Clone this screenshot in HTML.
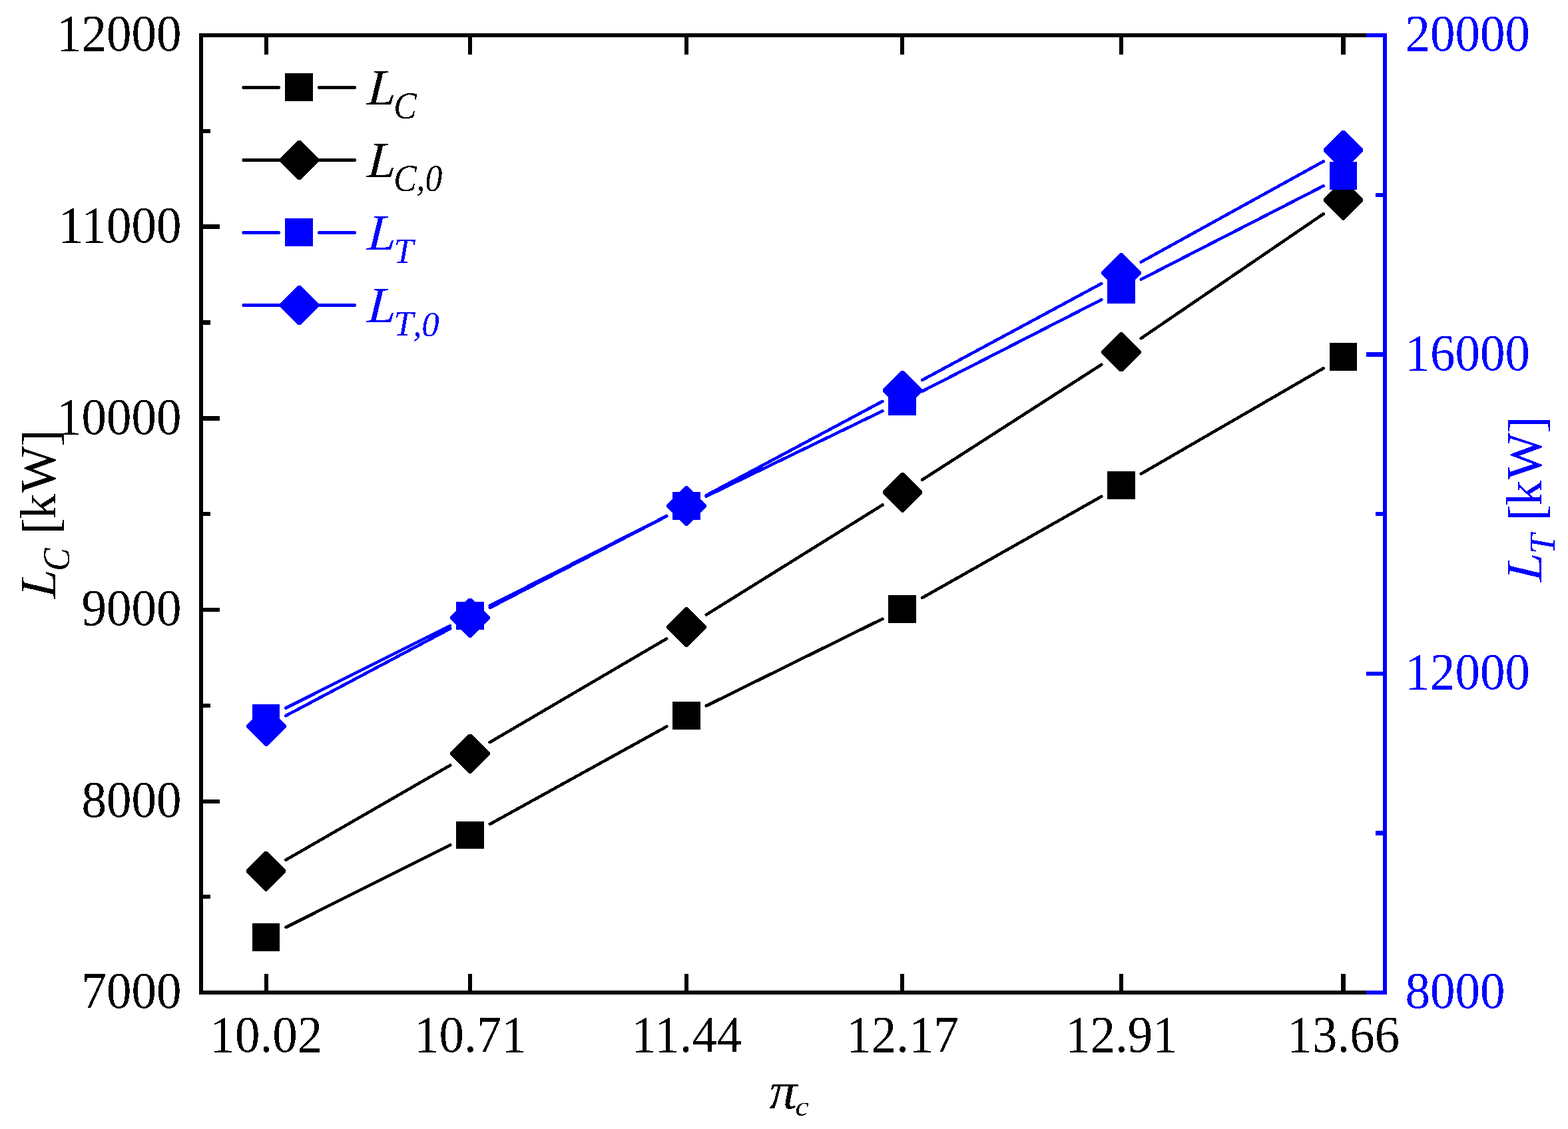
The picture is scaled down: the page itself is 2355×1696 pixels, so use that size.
<!DOCTYPE html>
<html lang="en">
<head>
<meta charset="utf-8">
<title>Compressor and turbine power versus pressure ratio</title>
<style>
html,body{margin:0;padding:0;background:#fff;}
body{width:2355px;height:1696px;overflow:hidden;}
svg{display:block;}
text{font-family:"Liberation Serif", "Times New Roman", Times, serif;font-size:75px;fill:#000;}
.b{fill:#00f;}
</style>
</head>
<body>
<svg width="2355" height="1696" viewBox="0 0 2355 1696" shape-rendering="crispEdges" role="img" aria-label="Compressor power and turbine power versus pressure ratio">
<defs><filter id="bw" x="-5%" y="-5%" width="110%" height="110%" color-interpolation-filters="sRGB"><feComponentTransfer><feFuncA type="discrete" tableValues="0 1"/></feComponentTransfer></filter></defs>
<rect x="0" y="0" width="2355" height="1696" fill="#ffffff"/>
<g id="series-LC"><g stroke="#000" stroke-width="4.6" stroke-linecap="round" fill="none"><line x1="429.30" y1="1393.08" x2="676.20" y2="1269.42"/><line x1="735.80" y1="1238.04" x2="1001.20" y2="1091.46"/><line x1="1060.80" y1="1060.29" x2="1325.40" y2="929.71"/><line x1="1385.00" y1="898.14" x2="1654.20" y2="745.86"/><line x1="1713.80" y1="711.75" x2="1987.70" y2="553.25"/></g><rect x="379" y="1387" width="41" height="42" fill="#000"/><rect x="685" y="1234" width="42" height="41" fill="#000"/><rect x="1010" y="1054" width="42" height="42" fill="#000"/><rect x="1334" y="894" width="42" height="42" fill="#000"/><rect x="1663" y="708" width="42" height="42" fill="#000"/><rect x="1997" y="515" width="41" height="42" fill="#000"/></g>
<g id="series-LC0"><g stroke="#000" stroke-width="4.6" stroke-linecap="round" fill="none"><line x1="429.30" y1="1291.84" x2="676.20" y2="1149.66"/><line x1="735.80" y1="1115.03" x2="1001.20" y2="959.47"/><line x1="1060.80" y1="923.43" x2="1325.40" y2="758.57"/><line x1="1385.00" y1="720.84" x2="1654.20" y2="547.76"/><line x1="1713.80" y1="508.26" x2="1987.70" y2="321.34"/></g><polygon points="397.80,1279.20 401.20,1279.20 429.30,1307.30 429.30,1310.70 401.20,1338.80 397.80,1338.80 369.70,1310.70 369.70,1307.30" fill="#000"/><polygon points="704.30,1102.70 707.70,1102.70 735.80,1130.80 735.80,1134.20 707.70,1162.30 704.30,1162.30 676.20,1134.20 676.20,1130.80" fill="#000"/><polygon points="1029.30,912.20 1032.70,912.20 1060.80,940.30 1060.80,943.70 1032.70,971.80 1029.30,971.80 1001.20,943.70 1001.20,940.30" fill="#000"/><polygon points="1353.80,710.20 1357.20,710.20 1385.30,738.30 1385.30,741.70 1357.20,769.80 1353.80,769.80 1325.70,741.70 1325.70,738.30" fill="#000"/><polygon points="1682.30,498.80 1685.70,498.80 1713.80,526.90 1713.80,530.30 1685.70,558.40 1682.30,558.40 1654.20,530.30 1654.20,526.90" fill="#000"/><polygon points="2015.80,271.20 2019.20,271.20 2047.30,299.30 2047.30,302.70 2019.20,330.80 2015.80,330.80 1987.70,302.70 1987.70,299.30" fill="#000"/></g>
<g id="series-LT"><g stroke="#00f" stroke-width="4.6" stroke-linecap="round" fill="none"><line x1="429.30" y1="1063.58" x2="676.20" y2="939.92"/><line x1="735.80" y1="909.87" x2="1001.20" y2="775.13"/><line x1="1060.80" y1="745.57" x2="1325.40" y2="617.43"/><line x1="1385.00" y1="587.77" x2="1654.20" y2="450.23"/><line x1="1713.80" y1="419.72" x2="1987.70" y2="279.28"/></g><rect x="379" y="1058" width="41" height="41" fill="#00f"/><rect x="685" y="904" width="42" height="42" fill="#00f"/><rect x="1010" y="739" width="42" height="42" fill="#00f"/><rect x="1334" y="582" width="42" height="42" fill="#00f"/><rect x="1663" y="414" width="42" height="42" fill="#00f"/><rect x="1997" y="243" width="41" height="42" fill="#00f"/></g>
<g id="series-LT0"><g stroke="#00f" stroke-width="4.6" stroke-linecap="round" fill="none"><line x1="429.30" y1="1075.20" x2="676.20" y2="944.30"/><line x1="735.80" y1="913.05" x2="1001.20" y2="775.45"/><line x1="1060.80" y1="744.10" x2="1325.40" y2="602.90"/><line x1="1385.00" y1="570.96" x2="1654.20" y2="426.04"/><line x1="1713.80" y1="393.56" x2="1987.70" y2="242.44"/></g><polygon points="398.30,1061.20 401.70,1061.20 429.80,1089.30 429.80,1092.70 401.70,1120.80 398.30,1120.80 370.20,1092.70 370.20,1089.30" fill="#00f"/><polygon points="704.30,898.70 707.70,898.70 735.80,926.80 735.80,930.20 707.70,958.30 704.30,958.30 676.20,930.20 676.20,926.80" fill="#00f"/><polygon points="1029.30,730.20 1032.70,730.20 1060.80,758.30 1060.80,761.70 1032.70,789.80 1029.30,789.80 1001.20,761.70 1001.20,758.30" fill="#00f"/><polygon points="1353.80,557.20 1357.20,557.20 1385.30,585.30 1385.30,588.70 1357.20,616.80 1353.80,616.80 1325.70,588.70 1325.70,585.30" fill="#00f"/><polygon points="1682.30,380.20 1685.70,380.20 1713.80,408.30 1713.80,411.70 1685.70,439.80 1682.30,439.80 1654.20,411.70 1654.20,408.30" fill="#00f"/><polygon points="2015.80,196.20 2019.20,196.20 2047.30,224.30 2047.30,227.70 2019.20,255.80 2015.80,255.80 1987.70,227.70 1987.70,224.30" fill="#00f"/></g>
<g id="axes"><rect x="299" y="50" width="6" height="1444" fill="#000"/><rect x="299" y="50" width="1784" height="6" fill="#000"/><rect x="299" y="1488" width="1784" height="6" fill="#000"/><rect x="397" y="50" width="6" height="32" fill="#000"/><rect x="397" y="1463" width="6" height="31" fill="#000"/><rect x="703" y="50" width="6" height="32" fill="#000"/><rect x="703" y="1463" width="6" height="31" fill="#000"/><rect x="1028" y="50" width="6" height="32" fill="#000"/><rect x="1028" y="1463" width="6" height="31" fill="#000"/><rect x="1352" y="50" width="6" height="32" fill="#000"/><rect x="1352" y="1463" width="6" height="31" fill="#000"/><rect x="1681" y="50" width="6" height="32" fill="#000"/><rect x="1681" y="1463" width="6" height="31" fill="#000"/><rect x="2014" y="50" width="7" height="32" fill="#000"/><rect x="2014" y="1463" width="7" height="31" fill="#000"/><rect x="299" y="194" width="17" height="6" fill="#000"/><rect x="299" y="337" width="31" height="7" fill="#000"/><rect x="299" y="481" width="17" height="7" fill="#000"/><rect x="299" y="625" width="31" height="7" fill="#000"/><rect x="299" y="769" width="17" height="6" fill="#000"/><rect x="299" y="913" width="31" height="6" fill="#000"/><rect x="299" y="1057" width="17" height="6" fill="#000"/><rect x="299" y="1201" width="31" height="6" fill="#000"/><rect x="299" y="1344" width="17" height="6" fill="#000"/><rect x="2077" y="50" width="6" height="1444" fill="#00f"/><rect x="2052" y="50" width="31" height="6" fill="#00f"/><rect x="2066" y="290" width="17" height="6" fill="#00f"/><rect x="2052" y="529" width="31" height="7" fill="#00f"/><rect x="2066" y="769" width="17" height="6" fill="#00f"/><rect x="2052" y="1009" width="31" height="6" fill="#00f"/><rect x="2066" y="1248" width="17" height="7" fill="#00f"/><rect x="2052" y="1488" width="31" height="6" fill="#00f"/></g>
<g id="tick-labels" filter="url(#bw)"><text transform="translate(272.50,1514.20) scale(1,1.03)" text-anchor="end">7000</text><text transform="translate(272.50,1226.60) scale(1,1.03)" text-anchor="end">8000</text><text transform="translate(272.50,939.00) scale(1,1.03)" text-anchor="end">9000</text><text transform="translate(272.50,652.30) scale(1,1.03)" text-anchor="end">10000</text><text transform="translate(272.50,364.00) scale(1,1.03)" text-anchor="end">11000</text><text transform="translate(272.50,76.00) scale(1,1.03)" text-anchor="end">12000</text><text transform="translate(2110.40,1514.00) scale(1,1.03)" class="b">8000</text><text transform="translate(2110.40,1034.67) scale(1,1.03)" class="b">12000</text><text transform="translate(2110.40,556.20) scale(1,1.03)" class="b">16000</text><text transform="translate(2110.40,76.00) scale(1,1.03)" class="b">20000</text><text transform="translate(399.90,1580.00) scale(1,1.03)" text-anchor="middle">10.02</text><text transform="translate(706.40,1580.00) scale(1,1.03)" text-anchor="middle">10.71</text><text transform="translate(1031.40,1580.00) scale(1,1.03)" text-anchor="middle">11.44</text><text transform="translate(1355.60,1580.00) scale(1,1.03)" text-anchor="middle">12.17</text><text transform="translate(1684.40,1580.00) scale(1,1.03)" text-anchor="middle">12.91</text><text transform="translate(2017.90,1580.00) scale(1,1.03)" text-anchor="middle">13.66</text></g>
<g id="y-title-left" filter="url(#bw)"><text transform="translate(83.00,899.10) rotate(-90) skewX(-3.5) scale(1.025,1.022)" style="font-size:75px;font-style:italic">L</text><text transform="translate(103.70,857.87) rotate(-90) scale(0.955,1.04)" style="font-size:54px;font-style:italic">C</text><text transform="translate(83.00,802.80) rotate(-90) scale(1,1.02)" x="0 23.5 62.3 132.4" y="3.4 0 0 3.4" style="font-size:75px">[kW]</text></g>
<g id="y-title-right" filter="url(#bw)"><text transform="translate(2315.00,874.00) rotate(-90) skewX(-3.5) scale(1.025,1.022)" style="font-size:75px;font-style:italic;fill:#00f">L</text><text transform="translate(2334.90,832.33) rotate(-90)" style="font-size:54px;font-style:italic;fill:#00f">T</text><text transform="translate(2315.00,782.80) rotate(-90) scale(1,1.02)" x="0 23.5 62.3 132.4" y="3.4 0 0 3.4" style="font-size:75px;fill:#00f">[kW]</text></g>
<g id="x-title" filter="url(#bw)"><text transform="translate(1155.35,1665.30) scale(1.118,1.055)" style="font-size:75px;font-style:italic">π</text><text transform="translate(1194.60,1675.60) scale(1.01,0.933)" style="font-size:45px;font-style:italic">c</text></g>
<g id="legend" filter="url(#bw)"><g stroke="#000" stroke-width="5" stroke-linecap="round"><line x1="366" y1="131.5" x2="418.5" y2="131.5"/><line x1="479.5" y1="131.5" x2="532.3" y2="131.5"/></g><rect x="428" y="110" width="42" height="42" fill="#000"/><text transform="translate(550.91,157.00) skewX(-3.5) scale(1.03,1.02)" style="font-size:75px;font-style:italic">L</text><text transform="translate(591.13,178.10) scale(0.955,1.05)" x="0" style="font-size:54px;font-style:italic">C</text><g stroke="#000" stroke-width="5" stroke-linecap="round"><line x1="366" y1="240.5" x2="532.3" y2="240.5"/></g><polygon points="447.80,210.70 451.20,210.70 479.30,238.80 479.30,242.20 451.20,270.30 447.80,270.30 419.70,242.20 419.70,238.80" fill="#000"/><text transform="translate(550.91,266.00) skewX(-3.5) scale(1.03,1.02)" style="font-size:75px;font-style:italic">L</text><text transform="translate(591.13,287.10) scale(0.955,1.05)" x="0 35.66 49.53" y="0 -1.05 -0.57" style="font-size:54px;font-style:italic">C,0</text><g stroke="#00f" stroke-width="5" stroke-linecap="round"><line x1="366" y1="349.5" x2="418.5" y2="349.5"/><line x1="479.5" y1="349.5" x2="532.3" y2="349.5"/></g><rect x="428" y="328" width="42" height="42" fill="#00f"/><text transform="translate(550.91,375.00) skewX(-3.5) scale(1.03,1.02)" style="font-size:75px;font-style:italic;fill:#00f">L</text><text transform="translate(591.44,395.00) scale(0.98,0.985)" x="0" style="font-size:54px;font-style:italic;fill:#00f">T</text><g stroke="#00f" stroke-width="5" stroke-linecap="round"><line x1="366" y1="458.5" x2="532.3" y2="458.5"/></g><polygon points="447.80,428.70 451.20,428.70 479.30,456.80 479.30,460.20 451.20,488.30 447.80,488.30 419.70,460.20 419.70,456.80" fill="#00f"/><text transform="translate(550.91,484.00) skewX(-3.5) scale(1.03,1.02)" style="font-size:75px;font-style:italic;fill:#00f">L</text><text transform="translate(591.44,504.00) scale(0.98,0.985)" x="0 29.29 42.79" y="0 0 0.51" style="font-size:54px;font-style:italic;fill:#00f">T,0</text></g>
</svg>
</body>
</html>
